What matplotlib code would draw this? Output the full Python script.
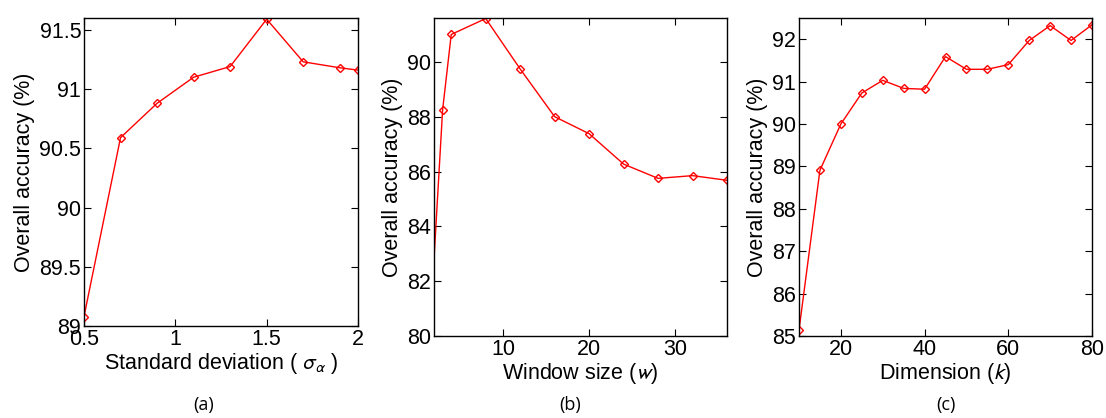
import matplotlib
matplotlib.use("Agg")
import matplotlib.pyplot as plt
from matplotlib.ticker import FuncFormatter

plt.rcParams['font.family'] = ['Liberation Sans', 'DejaVu Sans']
plt.rcParams['mathtext.fontset'] = 'stixsans'

# Panel (a)
sigma = [0.5, 0.7, 0.9, 1.1, 1.3, 1.5, 1.7, 1.9, 2.0]
acc_sigma = [89.08, 90.59, 90.88, 91.10, 91.19, 91.59, 91.23, 91.18, 91.16]
# Panel (b) (first point lies left of the visible range)
window = [1, 3, 4, 8, 12, 16, 20, 24, 28, 32, 36]
acc_window = [77.35, 88.25, 91.0, 91.58, 89.74, 88.0, 87.38, 86.27, 85.75, 85.85, 85.68]
# Panel (c)
dim = [10, 15, 20, 25, 30, 35, 40, 45, 50, 55, 60, 65, 70, 75, 80]
acc_dim = [85.14, 88.91, 90.0, 90.73, 91.03, 90.84, 90.82, 91.59, 91.29, 91.29, 91.40, 91.97, 92.32, 91.97, 92.34]

fig = plt.figure(figsize=(11.06, 4.18), dpi=100)

axes_pos = [
    [84/1106, 92/418, 274/1106, 308/418],
    [434/1106, 82/418, 293/1106, 318/418],
    [799/1106, 82/418, 293/1106, 318/418],
]
gfmt = FuncFormatter(lambda v, p: f"{v:g}")
FS = 15.5

def style(ax):
    ax.tick_params(direction='in', top=True, right=True, length=5, width=0.8,
                   labelsize=FS, pad=2, colors='black')
    for s in ax.spines.values():
        s.set_linewidth(1.0)
    ax.xaxis.set_major_formatter(gfmt)
    ax.yaxis.set_major_formatter(gfmt)

line_kw = dict(color='red', lw=1.0, marker='D', markersize=4,
               markerfacecolor='none', markeredgecolor='red', markeredgewidth=1.0)

ax1 = fig.add_axes(axes_pos[0])
ax1.plot(sigma, acc_sigma, **line_kw)
ax1.set_xlim(0.5, 2)
ax1.set_ylim(89, 91.6)
ax1.set_xticks([0.5, 1, 1.5, 2])
ax1.set_yticks([89, 89.5, 90, 90.5, 91, 91.5])
ax1.set_xlabel(r"Standard deviation ( $\sigma_\alpha$ )", fontsize=FS, labelpad=1)
ax1.set_ylabel("Overall accuracy (%)", fontsize=FS, labelpad=3)
style(ax1)

ax2 = fig.add_axes(axes_pos[1])
ax2.plot(window, acc_window, **line_kw)
ax2.set_xlim(2, 36)
ax2.set_ylim(80, 91.6)
ax2.set_xticks([10, 20, 30])
ax2.set_yticks([80, 82, 84, 86, 88, 90])
ax2.set_xlabel(r"Window size ($w$)", fontsize=FS, labelpad=1)
ax2.set_ylabel("Overall accuracy (%)", fontsize=FS, labelpad=3)
style(ax2)

ax3 = fig.add_axes(axes_pos[2])
ax3.plot(dim, acc_dim, **line_kw)
ax3.set_xlim(10, 80)
ax3.set_ylim(85, 92.5)
ax3.set_xticks([20, 40, 60, 80])
ax3.set_yticks([85, 86, 87, 88, 89, 90, 91, 92])
ax3.set_xlabel(r"Dimension ($k$)", fontsize=FS, labelpad=1)
ax3.set_ylabel("Overall accuracy (%)", fontsize=FS, labelpad=3)
style(ax3)

captions = ["(a)", "(b)", "(c)"]
cap_x = [204, 570, 946]
for c, x in zip(captions, cap_x):
    fig.text(x/1106, 1 - 405/418, c, ha='center', va='center', fontsize=13,
             family=['Open Sans', 'DejaVu Sans'])

fig.savefig("out.png", dpi=100)
